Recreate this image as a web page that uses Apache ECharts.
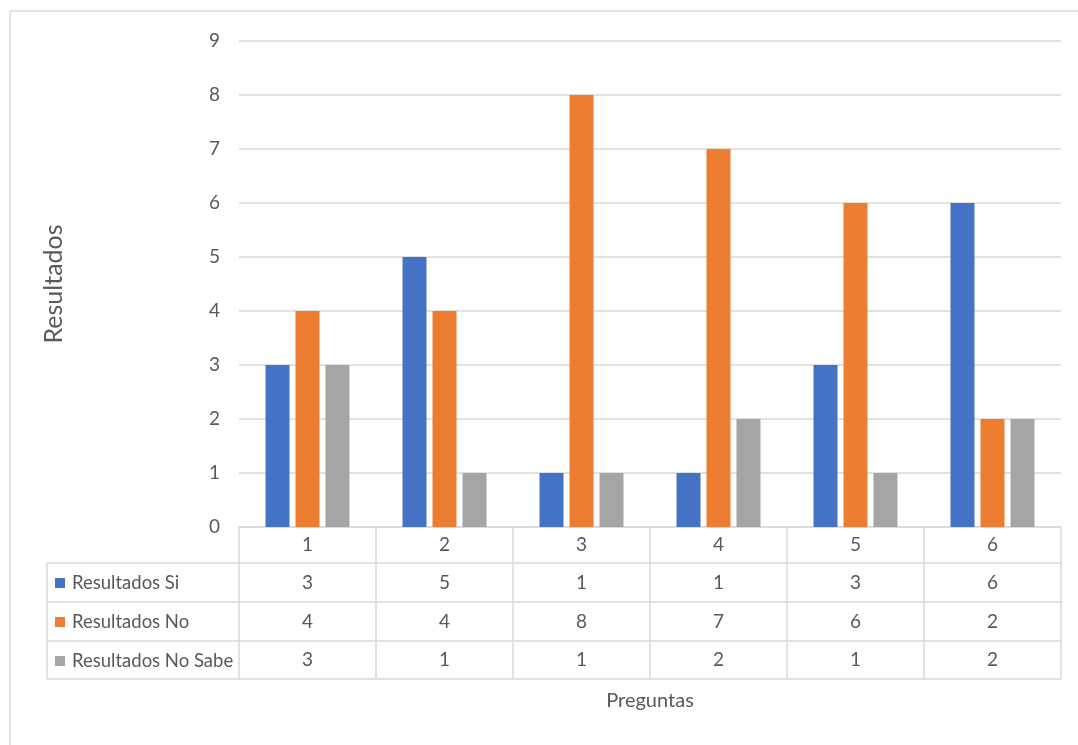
<!DOCTYPE html>
<html>
<head>
<meta charset="utf-8">
<script src="https://cdn.jsdelivr.net/npm/echarts@6/dist/echarts.min.js"></script>
<style>
  html, body { margin: 0; padding: 0; background: #ffffff; }
  #chart { width: 1078px; height: 745px; }
</style>
</head>
<body>
<div id="chart"></div>
<script>
// Survey answers per question
const categories = ['1', '2', '3', '4', '5', '6'];
const seriesNames = ['Resultados Si', 'Resultados No', 'Resultados No Sabe'];
const resultadosSi = [3, 5, 1, 1, 3, 6];
const resultadosNo = [4, 4, 8, 7, 6, 2];
const resultadosNoSabe = [3, 1, 1, 2, 1, 2];
const yTicks = [0, 9, 1]; // min, max, interval

const colors = ['#4472C4', '#ED7D31', '#A5A5A5'];
const rows = [resultadosSi, resultadosNo, resultadosNoSabe];
const textColor = '#595959';
const lineColor = '#d9d9d9';
const FONT = 'Lato';
const FS = 19;

// table row lines (pixel y of each horizontal rule below the plot)
const axisY = 527;
const rowLines = [563, 602, 641, 679];
const rowCenters = [545, 583, 622, 660];

const chart = echarts.init(document.getElementById('chart'), null, { renderer: 'canvas' });

// axis 0: question numbers; axes 1..3: table rows of values; axis 4: bottom rule + name
const xAxes = [];
xAxes.push({
  type: 'category',
  data: categories,
  gridIndex: 0,
  position: 'bottom',
  axisLine: { show: true, lineStyle: { color: lineColor, width: 1.5 } },
  axisTick: { show: true, interval: 0, length: rowLines[3] - axisY, lineStyle: { color: lineColor, width: 1.5 } },
  axisLabel: { interval: 0, color: textColor, fontFamily: FONT, fontSize: FS, verticalAlign: 'middle', margin: rowCenters[0] - axisY },
  splitLine: { show: false }
});
rows.forEach(function (vals, i) {
  xAxes.push({
    type: 'category',
    data: categories,
    gridIndex: 0,
    position: 'bottom',
    offset: rowLines[i] - axisY,
    axisLine: { show: true, lineStyle: { color: lineColor, width: 1.5 } },
    axisTick: { show: false },
    axisLabel: {
      interval: 0, color: textColor, fontFamily: FONT, fontSize: FS,
      verticalAlign: 'middle', margin: rowCenters[i + 1] - rowLines[i],
      formatter: function (v, idx) { return String(vals[idx]); }
    },
    splitLine: { show: false }
  });
});
xAxes.push({
  type: 'category',
  data: categories,
  gridIndex: 0,
  position: 'bottom',
  offset: rowLines[3] - axisY,
  axisLine: { show: true, lineStyle: { color: lineColor, width: 1.5 } },
  axisTick: { show: false },
  axisLabel: { show: false },
  name: 'Preguntas',
  nameLocation: 'middle',
  nameGap: 22,
  nameTextStyle: { color: textColor, fontFamily: FONT, fontSize: 20, verticalAlign: 'middle' }
});

// legend column of the data table
const tableLeft = 47, tableRight = 239;
const graphics = [];
rowLines.forEach(function (y) {
  graphics.push({ type: 'line', shape: { x1: tableLeft, y1: y, x2: tableRight, y2: y }, style: { stroke: lineColor, lineWidth: 1.5 } });
});
graphics.push({ type: 'line', shape: { x1: tableLeft, y1: rowLines[0], x2: tableLeft, y2: rowLines[3] }, style: { stroke: lineColor, lineWidth: 1.5 } });
// chart area frame
graphics.push({ type: 'line', shape: { x1: 10, y1: 11, x2: 1078, y2: 11 }, style: { stroke: lineColor, lineWidth: 1.5 } });
graphics.push({ type: 'line', shape: { x1: 10, y1: 11, x2: 10, y2: 745 }, style: { stroke: lineColor, lineWidth: 1.5 } });

const option = {
  backgroundColor: '#ffffff',
  animation: false,
  color: colors,
  grid: { left: 239, right: 17, top: 41, bottom: 745 - axisY, containLabel: false },
  legend: {
    show: true,
    orient: 'vertical',
    left: 55,
    top: rowCenters[1] - 10,
    padding: 0,
    data: seriesNames,
    icon: 'rect',
    itemWidth: 10,
    itemHeight: 10,
    itemGap: 19,
    selectedMode: false,
    textStyle: { color: textColor, fontFamily: FONT, fontSize: 18.5, lineHeight: 20, padding: [0, 0, 0, 2] }
  },
  xAxis: xAxes,
  yAxis: {
    type: 'value',
    min: yTicks[0],
    max: yTicks[1],
    interval: yTicks[2],
    axisLine: { show: false },
    axisTick: { show: false },
    axisLabel: { color: textColor, fontFamily: FONT, fontSize: FS, margin: 19 },
    splitLine: { show: true, lineStyle: { color: lineColor, width: 1.5 } },
    name: 'Resultados',
    nameLocation: 'middle',
    nameGap: 173,
    nameRotate: 90,
    nameTextStyle: { color: textColor, fontFamily: FONT, fontSize: 25 }
  },
  graphic: graphics,
  series: rows.map(function (vals, i) {
    return {
      name: seriesNames[i],
      type: 'bar',
      xAxisIndex: 0,
      data: vals,
      barGap: '25%',
      barCategoryGap: '38.7%',
      itemStyle: { color: colors[i] }
    };
  })
};

chart.setOption(option);
</script>
</body>
</html>
